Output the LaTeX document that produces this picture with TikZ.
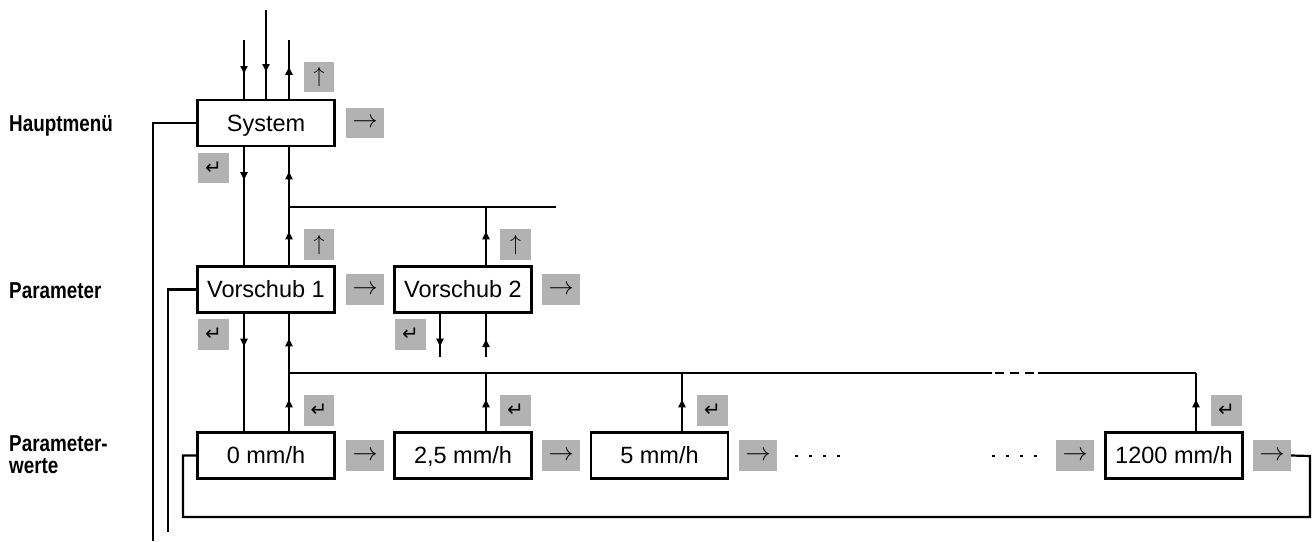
\documentclass[tikz,border=0pt]{standalone}
\usepackage{fontspec}
\usepackage{graphicx}
\setmainfont{Liberation Sans}
\newfontfamily\lblfont{Liberation Sans}[FakeStretch=0.82]
\newfontfamily\symfont{DejaVu Sans}
\usetikzlibrary{arrows.meta,decorations.markings,calc}

\definecolor{keygray}{RGB}{178,178,178}

% key glyphs
\newcommand\keynext{\scalebox{2.5}{$\rightarrow$}}
\newcommand\keyback{\scalebox{2.2}{$\uparrow$}}
\newcommand\keyenter{{\symfont\fontsize{20}{20}\selectfont ↵}}

\tikzset{
  line/.style={line width=2.2pt},
  tipat/.style={postaction={decorate,decoration={markings,
      mark=at position #1 with {\arrow{Triangle[length=8pt,width=7pt]}}}}},
  twotips/.style 2 args={postaction={decorate,decoration={markings,
      mark=at position #1 with {\arrow{Triangle[length=8pt,width=7pt]}},
      mark=at position #2 with {\arrow{Triangle[length=8pt,width=7pt]}}}}},
  menubox/.style={draw, line width=2.3pt, minimum width=137pt, minimum height=46pt,
      inner sep=0pt, text height=16.5pt, text depth=0pt,
      font=\fontsize{23.5}{23.5}\selectfont},
  keybase/.style={fill=keygray, inner sep=0pt, minimum height=30.5pt},
  keyright/.style={keybase, minimum width=38pt},
  keyup/.style={keybase, minimum width=30.5pt},
  keyret/.style={keybase, minimum width=30.5pt},
  lbl/.style={inner sep=0pt, font=\lblfont\bfseries\fontsize{23}{22}\selectfont},
  dotrow/.style={line width=2.2pt, dash pattern=on 3pt off 11pt},
}

\begin{document}
\begin{tikzpicture}[x=1pt,y=-1pt]
\useasboundingbox (0,0) rectangle (1313,541);

% level labels
\node[lbl, anchor=base west] (lmain) at (9,131.7) {Hauptmenü};
\node[lbl, anchor=base west] (lpar) at (9,298.3) {Parameter};
\node[lbl, anchor=north west, align=left] (lval) at (9,435) {Parameter-\\werte};

% menu boxes
\node[menubox] (sys) at (266,123) {System};
\node[menubox] (vs1) at (266,289.5) {Vorschub 1};
\node[menubox] (vs2) at (463,289.5) {Vorschub 2};
\node[menubox] (w0) at (266,455.5) {0 mm/h};
\node[menubox] (w1) at (463,455.5) {2,5 mm/h};
\node[menubox] (w2) at (659.5,455.5) {5 mm/h};
\node[menubox] (w3) at (1174,455.5) {1200 mm/h};

% keys
\node[keyup] (sysup) at (319,77) {\keyback};
\node[keyright] (sysnext) at (365,123) {\keynext};
\node[keyret] (sysent) at (213.5,168) {\keyenter};

\node[keyup] (v1up) at (319,244.5) {\keyback};
\node[keyright] (v1next) at (365,289.5) {\keynext};
\node[keyup] (v2up) at (515.5,244.5) {\keyback};
\node[keyright] (v2next) at (561,289.5) {\keynext};
\node[keyret] (v1ent) at (213.5,334.5) {\keyenter};
\node[keyret] (v2ent) at (410.5,334.5) {\keyenter};

\node[keyret] (w0ent) at (319,410.5) {\keyenter};
\node[keyright] (w0next) at (365,455.5) {\keynext};
\node[keyret] (w1ent) at (515.5,410.5) {\keyenter};
\node[keyright] (w1next) at (561,455.5) {\keynext};
\node[keyret] (w2ent) at (712.5,410.5) {\keyenter};
\node[keyright] (w2next) at (758,455.5) {\keynext};
\node[keyright] (w3prev) at (1075,455.5) {\keynext};
\node[keyret] (w3ent) at (1226.5,410.5) {\keyenter};
\node[keyright] (w3next) at (1272,455.5) {\keynext};

% column positions of the vertical connectors
\coordinate (xa) at (244,0);
\coordinate (xb) at (289,0);
\coordinate (xc) at (440,0);
\coordinate (xd) at (486,0);
\coordinate (xe) at (682,0);
\coordinate (xf) at (1196,0);

% entries into the main menu
\coordinate (in1) at (244,40);
\coordinate (in2) at (266,10);
\coordinate (out1) at (289,40);
\draw[line,tipat=34pt] (in1) -- (in1 |- sys.north);
\draw[line,tipat=62pt] (in2) -- (in2 |- sys.north);
\draw[line,tipat=32pt] (out1 |- sys.north) -- (out1);

% main menu <-> parameters
\draw[line,tipat=33pt] (xa |- sys.south) -- (xa |- vs1.north);
\draw[line,twotips={34pt}{94pt}] (xb |- vs1.north) -- (xb |- sys.south);
\coordinate (j1) at (289,207);
\coordinate (e1) at (556,207);
\draw[line] (j1) -- (e1);
\draw[line,tipat=34pt] (xd |- vs2.north) -- (xd |- j1);

% parameters <-> values
\draw[line,tipat=33pt] (xa |- vs1.south) -- (xa |- w0.north);
\draw[line,twotips={32pt}{93pt}] (xb |- w0.north) -- (xb |- vs1.south);
\coordinate (d1) at (440,357);
\coordinate (u1) at (486,357);
\draw[line,tipat=33pt] (xc |- vs2.south) -- (d1);
\draw[line,tipat=18pt] (u1) -- (xd |- vs2.south);

\coordinate (j2) at (289,373);
\coordinate (g1) at (992,373);
\coordinate (g2) at (995,373);
\coordinate (g3) at (1034,373);
\coordinate (g4) at (1038,373);
\draw[line] (j2) -- (g1);
\draw[line,dash pattern=on 9pt off 6pt] (g2) -- (g3);
\draw[line] (g4) -- (xf |- j2);
\draw[line,tipat=32pt] (xd |- w1.north) -- (xd |- j2);
\draw[line,tipat=32pt] (xe |- w2.north) -- (xe |- j2);
\draw[line,tipat=32pt] (xf |- w3.north) -- (xf |- j2);

% omitted values
\coordinate (dA) at (795,456);
\coordinate (dB) at (840,456);
\coordinate (dC) at (992,456);
\coordinate (dD) at (1038,456);
\draw[dotrow] (dA) -- (dB);
\draw[dotrow] (dC) -- (dD);

% return paths
\coordinate (l1) at (153,541);
\coordinate (l2) at (168,532);
\draw[line] (sys.west) -| (l1);
\draw[line] (vs1.west) -| (l2);
\coordinate (lb) at (183,517);
\coordinate (rb) at (1310,456);
\draw[line] (w0.west) -| (lb) -- (lb -| rb) -- (rb) -- (w3next.east);
\end{tikzpicture}
\end{document}
